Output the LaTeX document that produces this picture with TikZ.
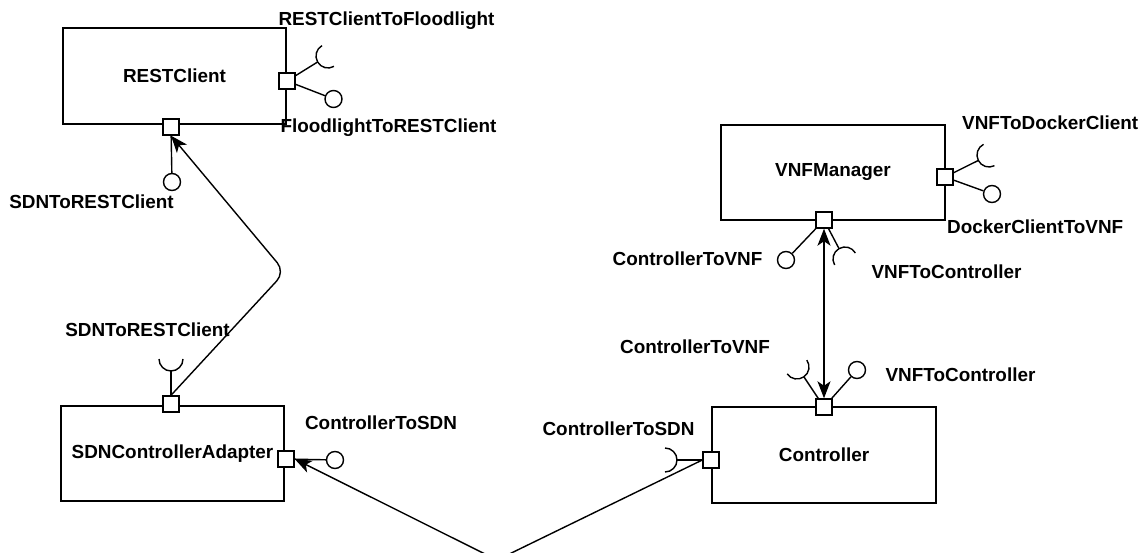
\documentclass[tikz,border=0pt]{standalone}
\usepackage{fontspec}
\setmainfont{Liberation Sans}
\usetikzlibrary{arrows.meta,calc}
\tikzset{
  txt/.style={font=\bfseries\fontsize{18.9}{22}\selectfont},
  comp/.style={draw, line width=1.4pt, inner sep=0, txt},
  port/.style={draw, fill=white, line width=1.4pt, minimum size=16pt, inner sep=0},
  lolli/.style={draw, fill=white, circle, line width=1.4pt, minimum size=17pt, inner sep=0},
  lbl/.style={txt, inner sep=0},
  conn/.style={line width=1.4pt},
  >={Stealth[length=17pt,width=13pt,inset=4.5pt]},
  tipa/.style={conn, ->},
  tipab/.style={conn, <->},
}
\newcommand\mysocket[3]{%
  \draw[conn] (#1) -- ($(#2)+({#3+180}:12)$);
  \draw[conn] ($(#2)+({#3+90}:12)$) arc[start angle={#3+90}, delta angle=180, radius=12];}
\begin{document}
\begin{tikzpicture}[x=1pt,y=-1pt]
\useasboundingbox (0,0) rectangle (1141,553);
% components
\node[comp, minimum width=223pt, minimum height=96pt] (rc) at (174.5,76) {RESTClient};
\node[comp, minimum width=223pt, minimum height=95pt] (sdn) at (172.5,453.5) {SDNControllerAdapter};
\node[comp, minimum width=224pt, minimum height=96pt] (ctrl) at (824,455) {Controller};
\node[comp, minimum width=224pt, minimum height=95pt] (vnf) at (833,172.5) {VNFManager};
% ports
\node[port] (rc_r) at (287,81) {};
\node[port] (rc_b) at (171,127) {};
\node[port] (sdn_t) at (171,404) {};
\node[port] (sdn_r) at (286,459) {};
\node[port] (ctrl_t) at (824,407) {};
\node[port] (ctrl_l) at (711,460) {};
\node[port] (vnf_r) at (945,177) {};
\node[port] (vnf_b) at (824,220) {};
% provided interfaces
\node[lolli] (l_rc_r) at (333.5,99) {};
\node[lolli] (l_rc_b) at (172,182) {};
\node[lolli] (l_sdn_r) at (335,460) {};
\node[lolli] (l_ctrl_t) at (857,370) {};
\node[lolli] (l_vnf_r) at (992,194) {};
\node[lolli] (l_vnf_b) at (786,260) {};
\draw[conn] (rc_r) -- (l_rc_r);
\draw[conn] (rc_b) -- (l_rc_b);
\draw[conn] (sdn_r) -- (l_sdn_r);
\draw[conn] (ctrl_t) -- (l_ctrl_t);
\draw[conn] (vnf_r) -- (l_vnf_r);
\draw[conn] (vnf_b) -- (l_vnf_b);
% required interfaces
\coordinate (s_rc_r) at (328,56);
\coordinate (s_sdn_t) at (171,359);
\coordinate (s_ctrl_l) at (665,460);
\coordinate (s_ctrl_t) at (797,367);
\coordinate (s_vnf_r) at (989,155);
\coordinate (s_vnf_b) at (845,259);
\mysocket{rc_r}{s_rc_r}{-30}
\mysocket{sdn_t}{s_sdn_t}{-90}
\mysocket{ctrl_l}{s_ctrl_l}{180}
\mysocket{ctrl_t}{s_ctrl_t}{-125}
\mysocket{vnf_r}{s_vnf_r}{-27}
\mysocket{vnf_b}{s_vnf_b}{60}
% connectors
\coordinate (b1) at (285,272);
\coordinate (b2) at (497,560);
\draw[tipa, rounded corners=12pt] (sdn_t.north) -- (b1) -- (rc_b.south);
\draw[tipa, rounded corners=12pt] (ctrl_l.west) -- (b2) -- (sdn_r.east);
\draw[tipab] (vnf_b.south) -- (ctrl_t.north);
% labels
\node[lbl] (t1) at (386.5,21) {RESTClientToFloodlight};
\node[lbl] (t2) at (388.5,128) {FloodlightToRESTClient};
\node[lbl] (t3) at (91.5,202) {SDNToRESTClient};
\node[lbl] (t4) at (147.5,330) {SDNToRESTClient};
\node[lbl] (t5) at (381,423) {ControllerToSDN};
\node[lbl] (t6) at (618.5,429) {ControllerToSDN};
\node[lbl] (t7) at (695,347) {ControllerToVNF};
\node[lbl] (t8) at (960.5,375) {VNFToController};
\node[lbl] (t9) at (687.5,259) {ControllerToVNF};
\node[lbl] (t10) at (946.5,272) {VNFToController};
\node[lbl, anchor=west] (t11) at (962,123) {VNFToDockerClient};
\node[lbl, anchor=west] (t12) at (947,227) {DockerClientToVNF};
\end{tikzpicture}
\end{document}
